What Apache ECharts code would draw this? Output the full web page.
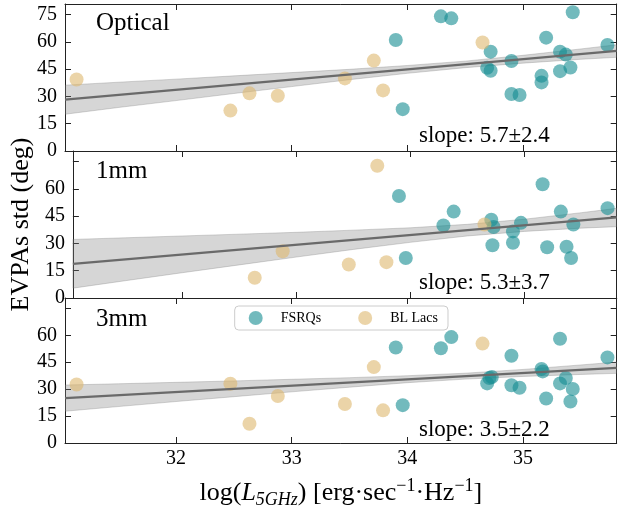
<!DOCTYPE html>
<html><head><meta charset="utf-8">
<script src="https://cdn.jsdelivr.net/npm/echarts@6/dist/echarts.min.js"></script>
<style>html,body{margin:0;padding:0;background:#fff}#c{width:618px;height:510px}</style>
</head><body><div id="c"></div>
<script>
// ---- data ----
const panelNames = ['Optical', '1mm', '3mm'];
const slopeLabels = ['slope: 5.7\u00b12.4', 'slope: 5.3\u00b13.7', 'slope: 3.5\u00b12.2'];
const xTickValues = [32, 33, 34, 35];
const yTickValues = [0, 15, 30, 45, 60, 75];
const yLabelsTop = [0, 15, 30, 45, 60, 75];
const yLabelsOther = [0, 15, 30, 45, 60];

const opticalFSRQs = [[33.90,61.0],[33.96,23.0],[34.29,74.0],[34.38,72.9],[34.72,54.6],[34.69,45.7],[34.72,44.1],[34.90,49.5],[34.90,31.3],[34.97,30.8],[35.16,41.3],[35.16,37.7],[35.20,62.3],[35.32,54.6],[35.37,53.0],[35.32,43.9],[35.41,45.9],[35.43,76.3],[35.73,58.3]];
const opticalBLLacs = [[31.14,39.3],[32.47,22.2],[32.635,31.7],[32.88,30.4],[33.46,39.9],[33.71,49.7],[33.79,33.3],[34.65,59.6]];

const mm1FSRQs = [[33.90,56.1],[33.96,22.0],[34.29,39.9],[34.38,47.5],[34.71,43.0],[34.73,39.0],[34.72,29.0],[34.90,36.6],[34.90,30.4],[34.97,41.3],[35.16,62.5],[35.20,27.9],[35.32,47.5],[35.37,28.2],[35.41,22.0],[35.43,40.4],[35.73,49.4]];
const mm1BLLacs = [[32.635,11.1],[32.88,25.7],[33.46,18.4],[33.71,72.7],[33.79,19.7],[34.65,40.4]];

const mm3FSRQs = [[33.90,53.2],[33.96,21.1],[34.29,52.8],[34.38,59.0],[34.69,33.2],[34.71,36.2],[34.73,36.8],[34.90,48.6],[34.90,32.2],[34.97,30.8],[35.16,41.3],[35.17,39.9],[35.20,24.8],[35.32,33.2],[35.32,58.1],[35.37,36.2],[35.43,30.1],[35.41,23.1],[35.73,47.7]];
const mm3BLLacs = [[31.14,32.6],[32.47,33.0],[32.635,10.7],[32.88,26.2],[33.46,21.7],[33.71,42.3],[33.79,18.2],[34.65,55.4]];

// fit lines (values at the x-range ends) and confidence bands
const fitX = [31.04, 35.81];
const opticalFit = [28.2, 55.0];
const mm1Fit = [18.8, 44.3];
const mm3Fit = [25.0, 41.9];
const bandX = [31.04, 31.5, 32, 32.5, 33, 33.5, 34, 34.5, 35, 35.5, 35.81];
const opticalUpper = [36.2,37.8,39.5,41.3,43.1,44.9,47.0,49.4,52.6,56.1,58.4];
const opticalLower = [20.2,23.9,27.7,31.6,35.4,39.2,42.7,45.8,48.3,50.4,51.5];
const mm1Upper = [32.2,33.1,34.1,35.1,36.1,37.3,38.6,40.5,43.3,46.9,49.3];
const mm1Lower = [5.4,9.5,13.9,18.2,22.5,26.7,30.6,34.1,36.6,38.4,39.2];
const mm3Upper = [32.3,33.0,33.8,34.6,35.5,36.4,37.5,38.9,41.0,43.5,45.1];
const mm3Lower = [17.7,20.3,23.1,25.8,28.5,31.1,33.6,35.6,37.1,38.2,38.8];

// ---- chart ----
const FONT = 'Liberation Serif';
const X_MIN = 31.04, X_MAX = 35.81, Y_MAX = 80.8;
const TEAL = 'rgba(20,140,145,0.75)';
const TAN = 'rgba(222,184,110,0.75)';
const panels = [
  {fsrq: opticalFSRQs, bl: opticalBLLacs, fit: opticalFit, up: opticalUpper, lo: opticalLower},
  {fsrq: mm1FSRQs, bl: mm1BLLacs, fit: mm1Fit, up: mm1Upper, lo: mm1Lower},
  {fsrq: mm3FSRQs, bl: mm3BLLacs, fit: mm3Fit, up: mm3Upper, lo: mm3Lower}
];
const tops = [4, 151, 298];
const H = 147;
const lineStyle = {color: '#222', width: 1};

const grid = [], xAxis = [], yAxis = [], series = [];
panels.forEach((p, i) => {
  grid.push({left: 65, right: 1.3, top: tops[i], height: H});
  const isLast = i === 2;
  xAxis.push({
    type: 'value', gridIndex: i, min: X_MIN, max: X_MAX, position: 'bottom',
    axisLine: {show: true, onZero: false, lineStyle},
    axisTick: {show: true, inside: true, length: 6, customValues: xTickValues, lineStyle},
    axisLabel: {show: isLast, customValues: xTickValues, margin: 6, color: '#000', fontFamily: FONT, fontSize: 20},
    splitLine: {show: false},
    name: isLast ? 'log({i|L}{sub|5GHz}) [erg\u00b7sec{sup|\u22121}\u00b7Hz{sup|\u22121}]' : '',
    nameLocation: 'middle', nameGap: 34,
    nameTextStyle: {
      color: '#000', fontFamily: FONT, fontSize: 26, lineHeight: 32,
      rich: {
        i: {fontFamily: FONT, fontStyle: 'italic', fontSize: 26, color: '#000', lineHeight: 32},
        sub: {fontFamily: FONT, fontStyle: 'italic', fontSize: 18, color: '#000', lineHeight: 18, verticalAlign: 'bottom'},
        sup: {fontFamily: FONT, fontSize: 18, color: '#000', lineHeight: 18, verticalAlign: 'top'}
      }
    }
  });
  xAxis.push({
    type: 'value', gridIndex: i, min: X_MIN, max: X_MAX, position: 'top',
    axisLine: {show: true, onZero: false, lineStyle},
    axisTick: {show: true, inside: true, length: 6, customValues: xTickValues, lineStyle},
    axisLabel: {show: false}, splitLine: {show: false}
  });
  yAxis.push({
    type: 'value', gridIndex: i, min: 0, max: Y_MAX, position: 'left',
    axisLine: {show: true, onZero: false, lineStyle},
    axisTick: {show: true, inside: true, length: 6, customValues: yTickValues, lineStyle},
    axisLabel: {show: true, customValues: i === 0 ? yLabelsTop : yLabelsOther, margin: 8, color: '#000', fontFamily: FONT, fontSize: 20},
    splitLine: {show: false},
    name: i === 1 ? 'EVPAs std (deg)' : '',
    nameLocation: 'middle', nameGap: 33, nameRotate: 90,
    nameTextStyle: {color: '#000', fontFamily: FONT, fontSize: 26}
  });
  yAxis.push({
    type: 'value', gridIndex: i, min: 0, max: Y_MAX, position: 'right',
    axisLine: {show: true, onZero: false, lineStyle},
    axisTick: {show: true, inside: true, length: 6, customValues: yTickValues, lineStyle},
    axisLabel: {show: false}, splitLine: {show: false}
  });
  const xi = 2 * i, yi = 2 * i;
  series.push({
    type: 'custom', xAxisIndex: xi, yAxisIndex: yi, silent: true, z: 1, clip: true,
    data: bandX.map((x, k) => [x, p.up[k]]),
    renderItem: (params, api) => {
      if (params.dataIndex !== 0) return null;
      const pts = [];
      bandX.forEach((x, k) => pts.push(api.coord([x, p.up[k]])));
      for (let k = bandX.length - 1; k >= 0; k--) pts.push(api.coord([bandX[k], p.lo[k]]));
      return {type: 'polygon', shape: {points: pts},
        style: {fill: 'rgba(128,128,128,0.32)', stroke: 'rgba(110,110,110,0.35)', lineWidth: 0.8}};
    }
  });
  series.push({
    name: 'FSRQs', type: 'scatter', xAxisIndex: xi, yAxisIndex: yi, z: 3,
    symbol: 'circle', symbolSize: 14, data: p.fsrq,
    itemStyle: {color: TEAL}
  });
  series.push({
    name: 'BL Lacs', type: 'scatter', xAxisIndex: xi, yAxisIndex: yi, z: 3,
    symbol: 'circle', symbolSize: 14, data: p.bl,
    itemStyle: {color: TAN}
  });
  series.push({
    type: 'line', xAxisIndex: xi, yAxisIndex: yi, z: 4, silent: true,
    showSymbol: false, symbol: 'none',
    data: fitX.map((x, k) => [x, p.fit[k]]),
    lineStyle: {color: '#6a6a6a', width: 2.3}
  });
});

const panelLabelY = [25, 173, 321];
const slopeY = [137, 284, 431];
const graphic = [];
panelNames.forEach((t, i) => {
  graphic.push({type: 'text', left: 96, top: panelLabelY[i] - 14, silent: true,
    style: {text: t, fontFamily: FONT, fontSize: 25, fill: '#000'}});
  graphic.push({type: 'text', left: 419, top: slopeY[i] - 13, silent: true,
    style: {text: slopeLabels[i], fontFamily: FONT, fontSize: 23, fill: '#000'}});
});

const chart = echarts.init(document.getElementById('c'), null, {renderer: 'canvas'});
chart.setOption({
  animation: false,
  backgroundColor: '#fff',
  grid, xAxis, yAxis, series, graphic,
  legend: {
    data: ['FSRQs', 'BL Lacs'],
    left: 234.7, top: 306,
    orient: 'horizontal',
    itemWidth: 14, itemHeight: 14, itemGap: 37,
    padding: [5, 10, 5, 14],
    backgroundColor: 'rgba(255,255,255,0.85)',
    borderColor: '#cccccc', borderWidth: 1, borderRadius: 4,
    textStyle: {fontFamily: FONT, fontSize: 14, color: '#000', padding: [0, 0, 0, 13]},
    selectedMode: false
  }
});
</script></body></html>
